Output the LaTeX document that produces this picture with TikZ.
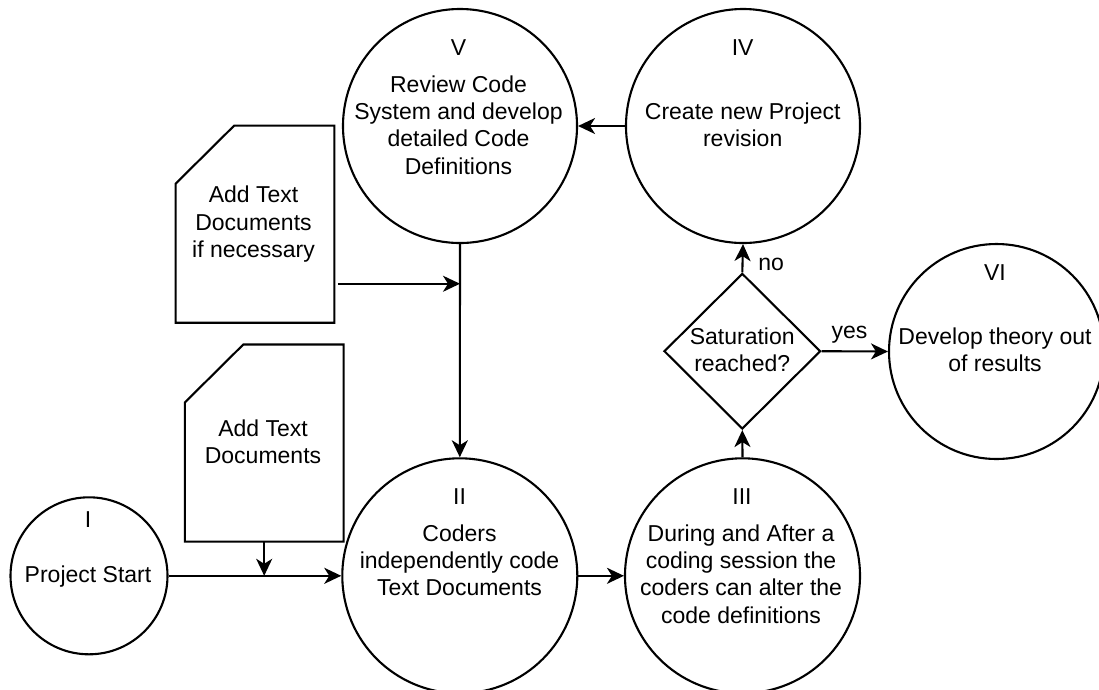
\documentclass[tikz,border=0pt]{standalone}
\usepackage{fontspec}
\setmainfont{Liberation Sans}
\usetikzlibrary{arrows.meta,shapes.geometric}

\begin{document}
\begin{tikzpicture}[x=1pt,y=-1pt,
  line width=2.1pt,
  every node/.style={font=\fontsize{23}{27.3}\selectfont},
  stage/.style={circle,draw,inner sep=0pt,minimum size=#1},
  decision/.style={diamond,draw,inner sep=0pt,aspect=1,
    minimum width=156.6pt,minimum height=155.6pt},
  docbox/.style={inner sep=0pt,minimum width=156.6pt,minimum height=195pt},
  txt/.style={anchor=base,align=center,inner sep=0pt},
  flow/.style={-{Stealth[length=17pt,width=16pt,inset=5pt]}},
]
% page area
\path[use as bounding box,fill=white] (0,0) rectangle (1099,689);

% process stages
\node[stage=157pt] (s1) at (89,575.8) {};
\node[stage=235pt] (s2) at (459.8,575.8) {};
\node[stage=235pt] (s3) at (742.5,575.8) {};
\node[stage=234pt] (s4) at (743,126) {};
\node[stage=234pt] (s5) at (460,126) {};
\node[stage=215pt] (s6) at (996.5,351.5) {};

% saturation check
\node[decision] (q) at (742.3,351.2) {};

% document cards (cut top-left corner)
\node[docbox] (d1) at (264.2,443) {};
\node[docbox] (d2) at (255,224.2) {};
\draw (d1.south west) -- (d1.south east) -- (d1.north east)
  -- ([xshift=58.5pt]d1.north west) -- ([yshift=-58pt]d1.north west) -- cycle;
\draw (d2.south west) -- (d2.south east) -- (d2.north east)
  -- ([xshift=58.5pt]d2.north west) -- ([yshift=-58pt]d2.north west) -- cycle;

% labels (multi-line labels sit on the baseline of their last line)
\node[txt] (n1) at (88,527.5) {I};
\node[txt] (t1) at (88,582.7) {Project Start};
\node[txt] (n2) at (459.5,504) {II};
\node[txt] (t2) at (459.5,595.8) {Coders\\independently code\\Text Documents};
\node[txt] (n3) at (742,504) {III};
\node[txt] (t3) at (741,623) {During and After a\\coding session the\\coders can alter the\\code definitions};
\node[txt] (n4) at (742.7,55) {IV};
\node[txt] (t4) at (742.7,146.6) {Create new Project\\revision};
\node[txt] (n5) at (458.5,55) {V};
\node[txt] (t5) at (458.5,174.2) {Review Code\\System and develop\\detailed Code\\Definitions};
\node[txt] (n6) at (995,280) {VI};
\node[txt] (t6) at (995,371.9) {Develop theory out\\of results};
\node[txt] (tq) at (742.2,371.9) {Saturation\\reached?};
\node[txt] (td1) at (263,463.3) {Add Text\\Documents};
\node[txt] (td2) at (253.5,257.5) {Add Text\\Documents\\if necessary};

% connectors
\draw[flow] (s1.east) -- (s2.west);
\draw[flow] (d1.south) -- (d1.south |- s1.east);
\draw[flow] (s2.east) -- (s3.west);
\draw[flow] (s3.north) -- (q.south);
\draw[flow] (q.north) -- (s4.south);
\draw[flow] (q.east) -- (s6.west);
\draw[flow] (s4.west) -- (s5.east);
\draw[flow] (s5.south) -- (s2.north);
\coordinate (a2) at ([xshift=3.4pt,yshift=39pt]d2.south east);
\draw[flow] (a2) -- (a2 -| s5.south);

% branch labels
\node[txt,anchor=base west] (lno) at (757.3,270) {no};
\node[txt] (lyes) at (849.5,338) {yes};
\end{tikzpicture}
\end{document}
